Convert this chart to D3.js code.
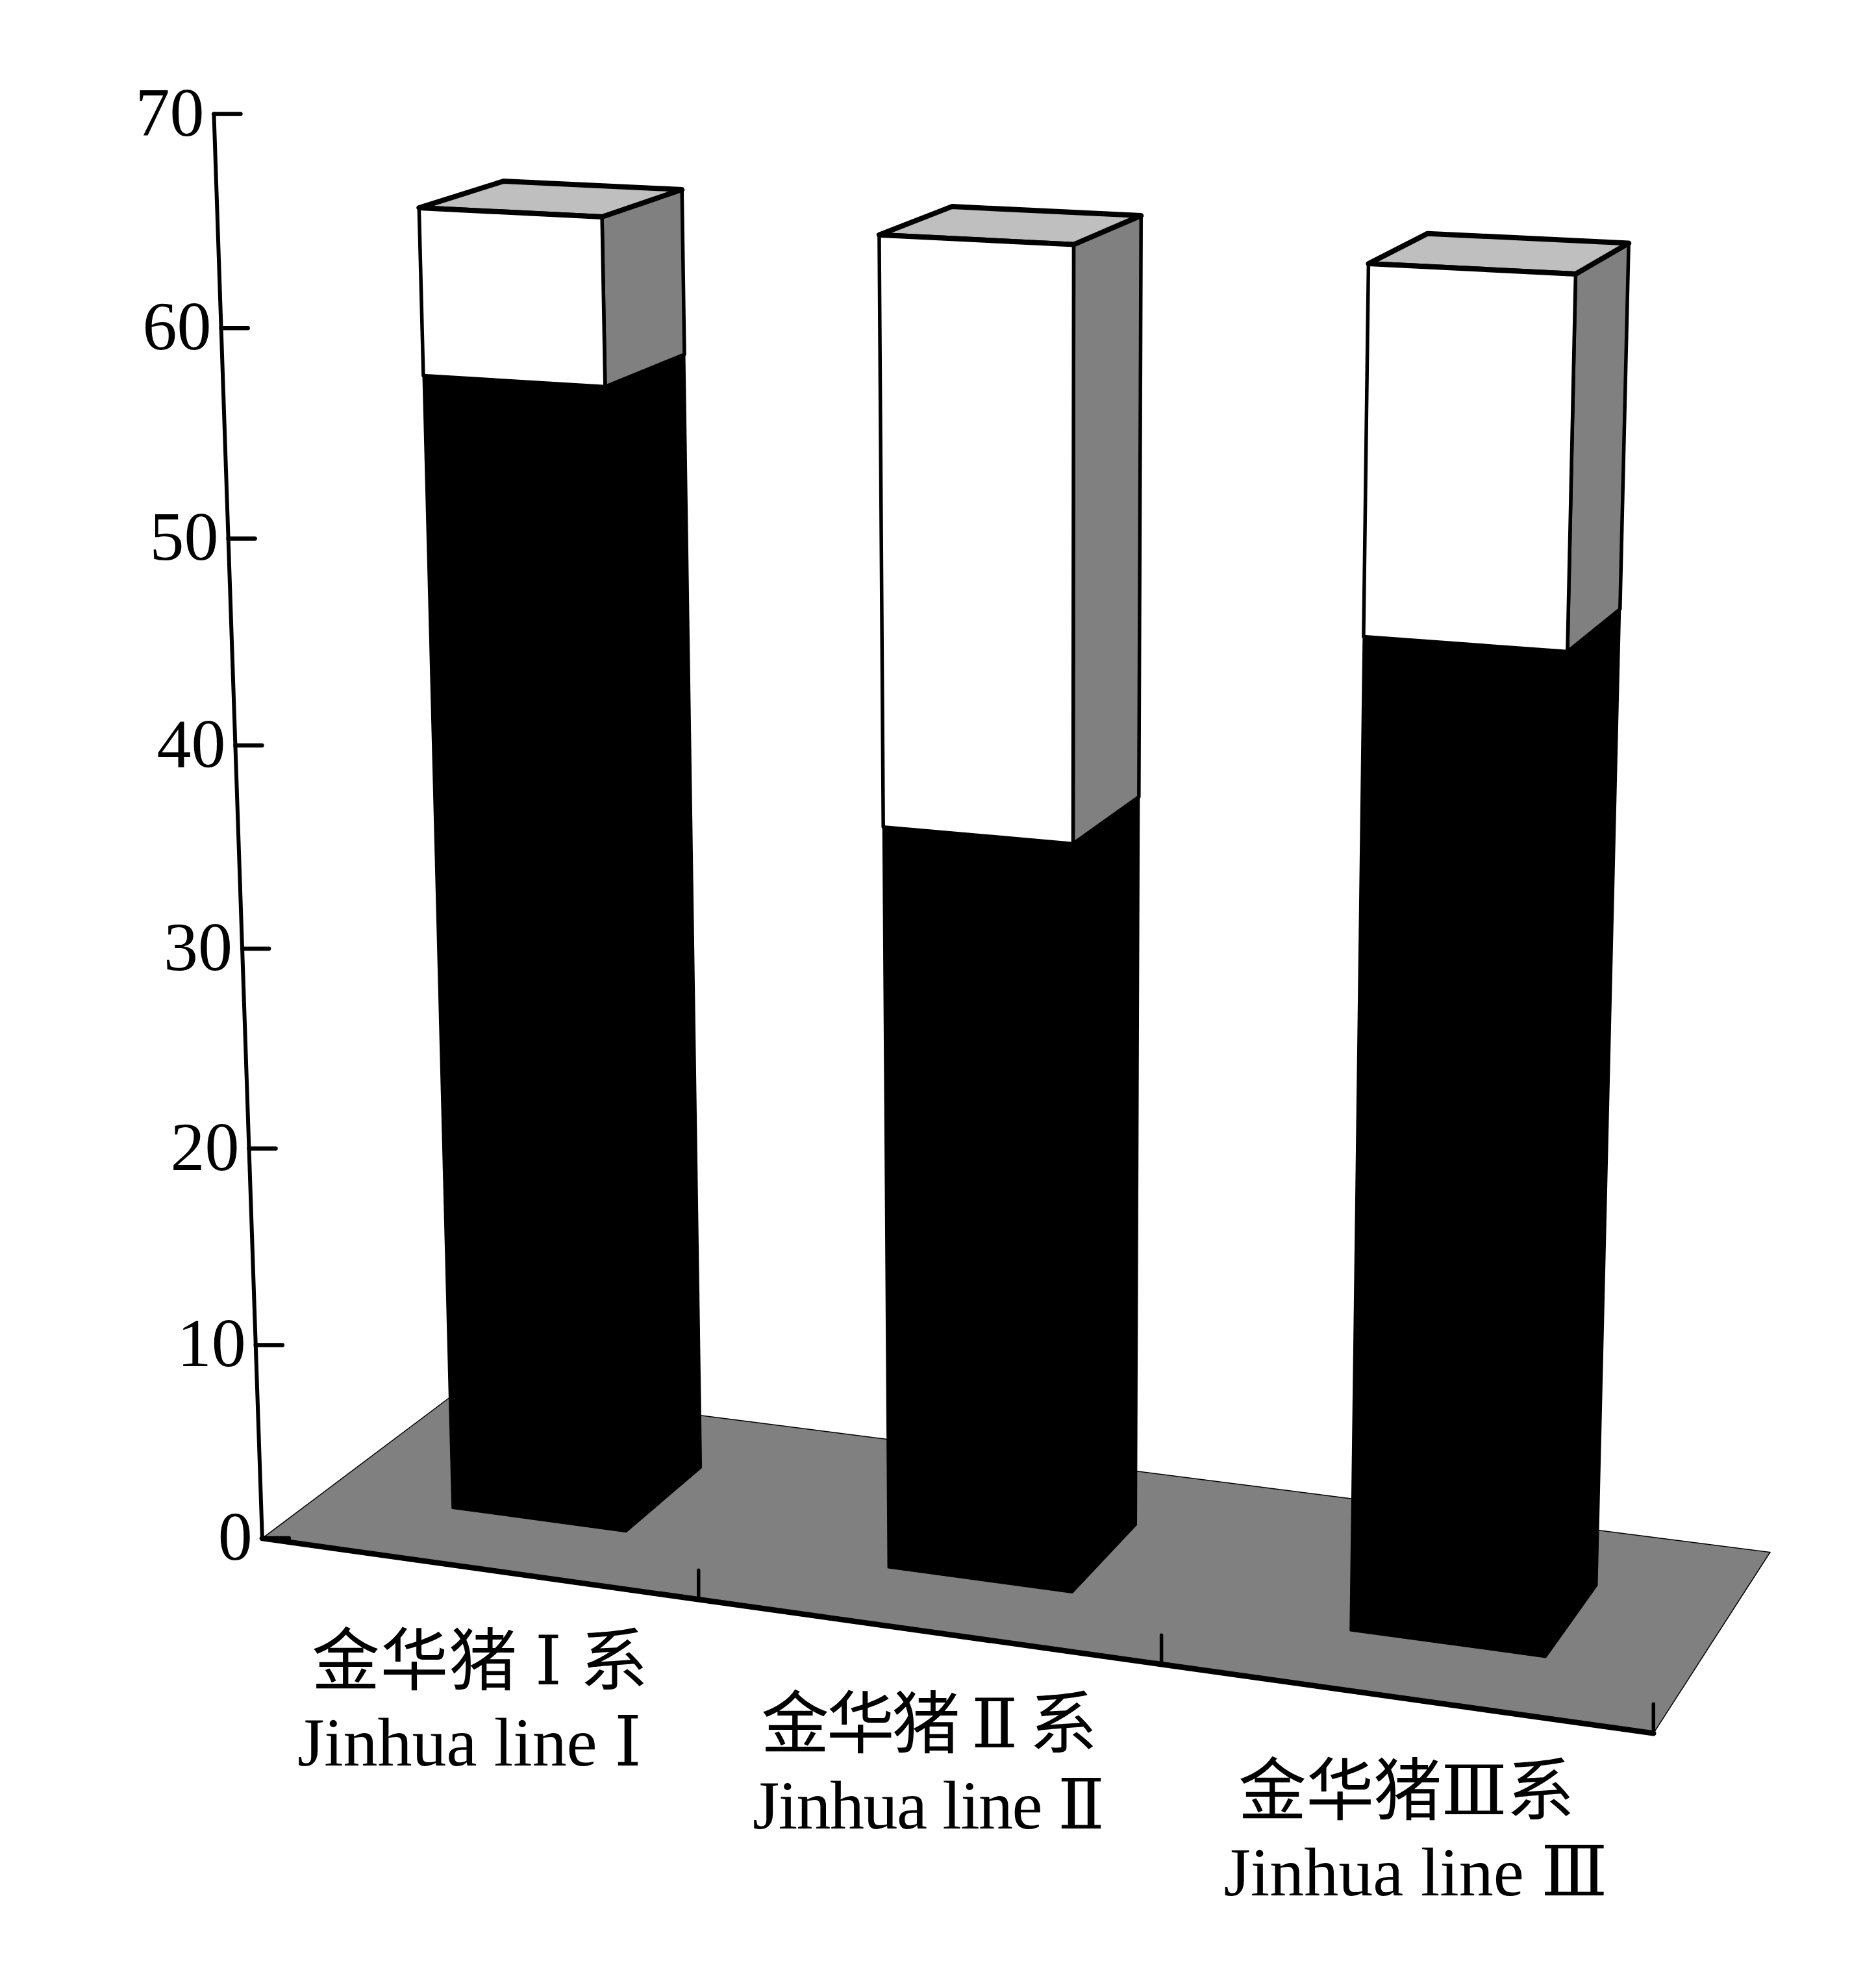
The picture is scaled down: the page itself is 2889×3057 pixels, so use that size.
<!DOCTYPE html>
<html><head><meta charset="utf-8">
<script src="https://cdn.jsdelivr.net/npm/d3@7/dist/d3.min.js"></script>
<style>html,body{margin:0;padding:0;background:#fff}svg{display:block}</style>
</head><body><svg id="c" width="2889" height="3057" viewBox="0 0 2889 3057"></svg>
<script>
const categories = ["line1", "line2", "line3"];
const labelsCn = ["金华猪 Ⅰ 系", "金华猪 Ⅱ 系", "金华猪Ⅲ系"];
const labelsEn = ["Jinhua line Ⅰ", "Jinhua line Ⅱ", "Jinhua line Ⅲ"];
const blackValues = [57.0, 36.9, 47.7];
const whiteValues = [8.0, 27.9, 16.9];
const yTicks = [0, 10, 20, 30, 40, 50, 60, 70];

const svg = d3.select("#c");
const SERIF = "'Liberation Serif','DejaVu Serif','Noto Sans CJK SC',serif";

// perspective camera: (u along categories, w depth, V height) -> screen
const ZOOM = 0.9923;
function project(u, w, V) {
  const D = 1 - 0.08622 * u + 0.07441 * w - 0.058 * V;
  return [
    ZOOM * (1937.8 * u + 369.8 * w - 94.3 * V + 407) / D,
    ZOOM * (70.6 * u - 77.5 * w - 2220.8 * V + 2387.5) / D
  ];
}
const uScale = d3.scaleBand().domain(categories).range([0.0015, 1.0015]).paddingInner(0.595).paddingOuter(0.2975);
const vScale = d3.scaleLinear().domain([0, 70]).range([0, 1]);
const depth = d3.scaleLinear().domain([0, 1]).range([0.296, 0.70]);
const line = d3.line();
const poly = pts => line(pts) + "Z";

// floor
svg.append("path")
  .attr("d", poly([project(0, 0, 0), project(1, 0, 0), project(1, 1, 0), project(0, 1, 0)]))
  .attr("fill", "#808080").attr("stroke", "#000").attr("stroke-width", 1.5);

// bars
const bars = svg.append("g").attr("stroke-linejoin", "round");
categories.forEach((c, i) => {
  const u0 = uScale(c), u1 = u0 + uScale.bandwidth();
  const wf = depth(0), wb = depth(1);
  const vs = vScale(blackValues[i]), vt = vScale(blackValues[i] + whiteValues[i]);
  const g = bars.append("g");
  // lower (black) block
  g.append("path").attr("d", poly([project(u0, wf, 0), project(u1, wf, 0), project(u1, wb, 0), project(u1, wb, vs), project(u1, wf, vs), project(u0, wf, vs)]))
    .attr("fill", "#000").attr("stroke", "#000").attr("stroke-width", 3);
  // side of upper block
  g.append("path").attr("d", poly([project(u1, wf, vs), project(u1, wb, vs), project(u1, wb, vt), project(u1, wf, vt)]))
    .attr("fill", "#808080").attr("stroke", "#000").attr("stroke-width", 5.5);
  // top
  g.append("path").attr("d", poly([project(u0, wf, vt), project(u1, wf, vt), project(u1, wb, vt), project(u0, wb, vt)]))
    .attr("fill", "#bfbfbf").attr("stroke", "#000").attr("stroke-width", 8);
  // front of upper block
  g.append("path").attr("d", poly([project(u0, wf, vs), project(u1, wf, vs), project(u1, wf, vt), project(u0, wf, vt)]))
    .attr("fill", "#fff").attr("stroke", "#000").attr("stroke-width", 5.5);
  // re-stroke top front edge
  g.append("path").attr("d", line([project(u0, wf, vt), project(u1, wf, vt)]))
    .attr("fill", "none").attr("stroke", "#000").attr("stroke-width", 8);
});

// axes
const axes = svg.append("g").attr("stroke", "#000").attr("fill", "none").attr("stroke-linecap", "round");
axes.append("path").attr("d", line([project(0, 0, 0), project(0, 0, 1)])).attr("stroke-width", 6);
axes.append("path").attr("d", line([project(0, 0, 0), project(1, 0, 0)])).attr("stroke-width", 8.5);
yTicks.forEach(t => {
  const [x, y] = project(0, 0, vScale(t));
  axes.append("path").attr("d", line([[x, y], [x + 41, y]])).attr("stroke-width", 6.5);
  svg.append("text").attr("x", x - 15).attr("y", y + 33).attr("text-anchor", "end")
    .attr("font-family", SERIF).attr("font-size", 106).attr("fill", "#000").text(t);
});
[1 / 3, 2 / 3, 1].forEach(u => {
  const [x, y] = project(u, 0, 0);
  axes.append("path").attr("d", line([[x, y], [x, y - 45]])).attr("stroke-width", 5.5);
});

// category labels
const enFit = [530, 542, 591];
categories.forEach((c, i) => {
  const [x, y] = project(uScale(c) + uScale.bandwidth() / 2, 0, 0);
  svg.append("text").attr("x", x + 1).attr("y", y + 178).attr("text-anchor", "middle")
    .attr("textLength", 518).attr("lengthAdjust", "spacing")
    .attr("font-family", SERIF).attr("font-size", 105).attr("fill", "#000").text(labelsCn[i]);
  svg.append("text").attr("x", x + (i - 1) * 15).attr("y", y + 303).attr("text-anchor", "middle")
    .attr("textLength", enFit[i]).attr("lengthAdjust", "spacing")
    .attr("font-family", SERIF).attr("font-size", 106).attr("fill", "#000").text(labelsEn[i]);
});
</script></body></html>
